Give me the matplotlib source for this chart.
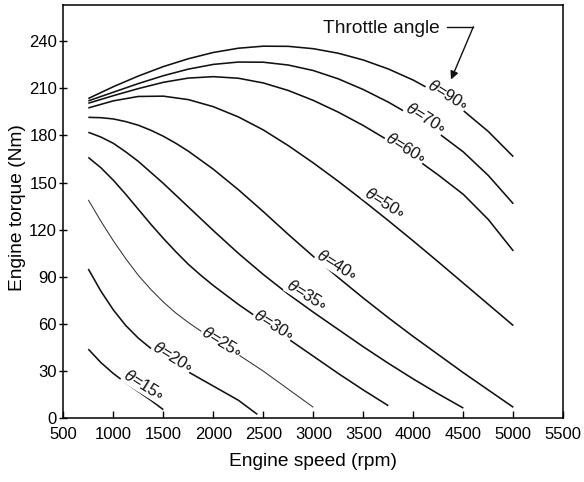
import matplotlib
matplotlib.use("Agg")
import matplotlib.pyplot as plt

plt.rcParams['font.family'] = ['Liberation Sans', 'DejaVu Sans']
plt.rcParams['mathtext.fontset'] = 'custom'
plt.rcParams['mathtext.rm'] = 'Liberation Sans'
plt.rcParams['mathtext.it'] = 'Liberation Sans:italic'
plt.rcParams['mathtext.fallback'] = 'stixsans'

# ---- data (engine speed rpm, torque Nm) ----
rpm_90 = [750, 1000, 1250, 1500, 1750, 2000, 2250, 2500, 2750, 3000, 3250, 3500, 3750, 4000, 4250, 4500, 4750, 5000]
tq_90 = [203.5, 211, 217.8, 223.8, 228.8, 232.8, 235.5, 236.8, 236.7, 235.2, 232.3, 228, 222.3, 215.2, 206.5, 195.8, 182.5, 166.5]

rpm_70 = [750, 1000, 1250, 1500, 1750, 2000, 2250, 2500, 2750, 3000, 3250, 3500, 3750, 4000, 4250, 4500, 4750, 5000]
tq_70 = [202, 207.5, 213, 218, 222.2, 225.2, 226.7, 226.6, 224.8, 221.3, 216, 209.2, 201.2, 192, 181.5, 169.5, 154.5, 136.5]

rpm_60 = [750, 1000, 1250, 1500, 1750, 2000, 2250, 2500, 2750, 3000, 3250, 3500, 3750, 4000, 4250, 4500, 4750, 5000]
tq_60 = [200.5, 205.3, 209.8, 213.8, 216.5, 217.4, 216.4, 213.4, 208.6, 202.3, 194.8, 186.3, 176.8, 166.3, 154.8, 142.5, 126.5, 106.5]

rpm_50 = [750, 1000, 1250, 1500, 1750, 2000, 2250, 2500, 2750, 3000, 3250, 3500, 3750, 4000, 4250, 4500, 4750, 5000]
tq_50 = [197.5, 202, 204.8, 205, 202.8, 198.3, 191.8, 183.5, 173.5, 162.5, 150.8, 138.5, 125.8, 112.8, 99.5, 86, 72.5, 59]

rpm_40 = [750, 875, 1000, 1125, 1250, 1375, 1500, 1625, 1750, 2000, 2250, 2500, 2750, 3000, 3250, 3500, 3750, 4000, 4250, 4500, 4750, 5000]
tq_40 = [191.5, 191.3, 190.5, 188.8, 186.5, 183.3, 179.5, 175, 170, 158.5, 145.5, 131.5, 117, 103, 89.5, 76.5, 64, 52, 40.5, 29, 18, 7]

rpm_35 = [750, 875, 1000, 1125, 1250, 1375, 1500, 1625, 1750, 2000, 2250, 2500, 2750, 3000, 3250, 3500, 3750, 4000, 4250, 4500]
tq_35 = [182, 179, 175, 169.5, 163.5, 156.5, 149.5, 142, 134.5, 119.5, 105, 91.5, 79, 67.5, 56.5, 45.5, 35, 25, 15.5, 6.5]

rpm_30 = [750, 875, 1000, 1125, 1250, 1375, 1500, 1625, 1750, 1875, 2000, 2250, 2500, 2750, 3000, 3250, 3500, 3750]
tq_30 = [166, 159.5, 151.5, 142.5, 133, 123.5, 114.5, 106, 98, 91, 84.5, 72.5, 61.5, 50.5, 39.5, 28.5, 18, 8]

rpm_25 = [750, 875, 1000, 1125, 1250, 1375, 1500, 1625, 1750, 1875, 2000, 2250, 2500, 2750, 3000]
tq_25 = [139, 125.5, 113, 101.5, 91, 82, 74, 67, 61, 55.5, 50.5, 40.5, 30, 18.5, 7]

rpm_20 = [750, 875, 1000, 1125, 1250, 1375, 1500, 1625, 1750, 2000, 2250, 2440]
tq_20 = [95, 81, 69, 59, 51, 44.5, 39, 34, 29.5, 20.5, 11.5, 2.5]

rpm_15 = [750, 875, 1000, 1125, 1250, 1375, 1500]
tq_15 = [44, 35.5, 28.5, 22.5, 17, 11.5, 5.5]

angles = [90, 70, 60, 50, 40, 35, 30, 25, 20, 15]
curves_rpm = [rpm_90, rpm_70, rpm_60, rpm_50, rpm_40, rpm_35, rpm_30, rpm_25, rpm_20, rpm_15]
curves_tq = [tq_90, tq_70, tq_60, tq_50, tq_40, tq_35, tq_30, tq_25, tq_20, tq_15]

# label anchor points (rpm, Nm)
label_rpm = [4340, 4120, 3920, 3710, 3230, 2930, 2600, 2080, 1590, 1300]
label_tq = [206, 191.5, 172, 137, 97.5, 78.5, 59.4, 48.6, 39, 21]

x_ticks = [500, 1000, 1500, 2000, 2500, 3000, 3500, 4000, 4500, 5000, 5500]
y_ticks = [0, 30, 60, 90, 120, 150, 180, 210, 240]

# ---- figure ----
fig = plt.figure(figsize=(5.84, 4.82), dpi=100)
ax = fig.add_axes([0.1084, 0.1322, 0.8562, 0.8574])

for ang, xs, ys in zip(angles, curves_rpm, curves_tq):
    lw = 0.75 if ang == 25 else 1.15
    col = '#333333' if ang == 25 else '#111111'
    ax.plot(xs, ys, color=col, lw=lw, solid_capstyle='butt', solid_joinstyle='round', zorder=2)

for ang, lx, ly in zip(angles, label_rpm, label_tq):
    ax.text(lx, ly, r'$\theta$=' + f'{ang}' + r'$\circ$', rotation=-32, ha='center', va='center',
            fontsize=12, color='#111111', zorder=3,
            bbox=dict(boxstyle='square,pad=0.02', fc='white', ec='none'))

# Throttle angle annotation
ax.text(3680, 245.1, 'Throttle angle', ha='center', va='baseline', fontsize=13.8, color='#111111')
ax.plot([4334, 4600], [249.1, 249.1], color='#111111', lw=1.0)
ax.annotate('', xy=(4377, 215.6), xytext=(4600, 249.1),
            arrowprops=dict(arrowstyle='-|>', lw=1.0, color='#111111',
                            mutation_scale=12, shrinkA=0, shrinkB=0))

ax.set_xlim(500, 5500)
ax.set_ylim(0, 263)
ax.set_xticks(x_ticks)
ax.set_yticks(y_ticks)
ax.tick_params(axis='x', direction='in', length=5, width=1.0, pad=6, labelsize=12)
ax.tick_params(axis='y', direction='inout', length=6, width=1.0, pad=1.5, labelsize=12)
for s in ax.spines.values():
    s.set_linewidth(1.1)

ax.set_xlabel('Engine speed (rpm)', fontsize=13.8)
ax.set_ylabel('Engine torque (Nm)', fontsize=13.8)
ax.xaxis.set_label_coords(0.5, -0.084)
ax.yaxis.set_label_coords(-0.0756, 0.51)

fig.savefig('out.png', dpi=100)
